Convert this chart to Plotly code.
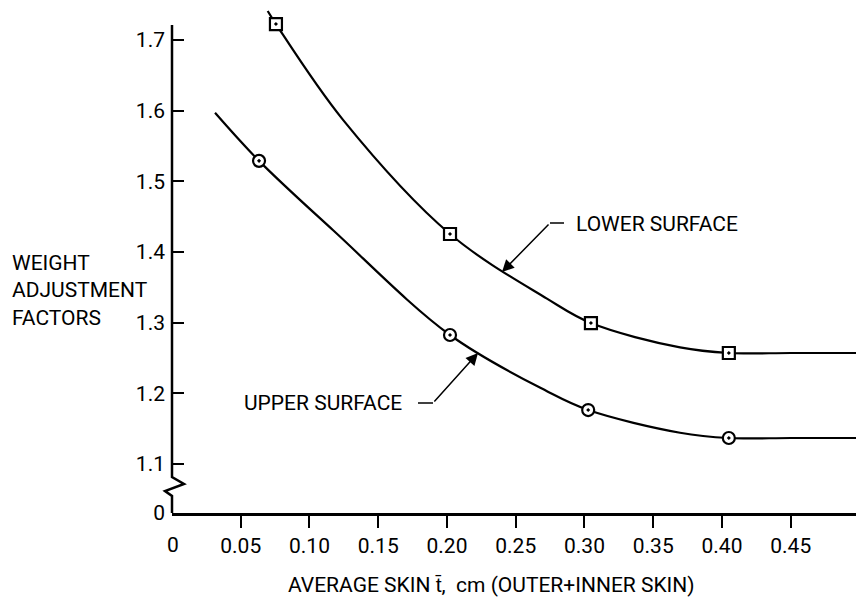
import plotly.graph_objects as go

# ---- data ----
lower_x = [0.0756, 0.2022, 0.3047, 0.4050]
lower_y = [1.7226, 1.4255, 1.2995, 1.2571]
upper_x = [0.0633, 0.2022, 0.3027, 0.4050]
upper_y = [1.5290, 1.2826, 1.1764, 1.1368]

# faired curves
lower_curve_x = [0.0696, 0.0756, 0.1244, 0.2022, 0.2727, 0.3047, 0.3695, 0.4050, 0.4500, 0.5033]
lower_curve_y = [1.7410, 1.7226, 1.5870, 1.4255, 1.3340, 1.2995, 1.2650, 1.2571, 1.2571, 1.2571]
upper_curve_x = [0.0313, 0.0633, 0.1170, 0.2022, 0.2727, 0.3027, 0.3695, 0.4050, 0.4500, 0.5033]
upper_curve_y = [1.5970, 1.5290, 1.4311, 1.2826, 1.2030, 1.1764, 1.1443, 1.1368, 1.1368, 1.1368]

x_tick_vals = [0.05, 0.10, 0.15, 0.20, 0.25, 0.30, 0.35, 0.40, 0.45]
x_tick_text = ["0.05", "0.10", "0.15", "0.20", "0.25", "0.30", "0.35", "0.40", "0.45"]
y_break_val = 1.0307  # where the "0" of the broken axis sits
y_tick_vals = [y_break_val, 1.1, 1.2, 1.3, 1.4, 1.5, 1.6, 1.7]
y_tick_text = ["0", "1.1", "1.2", "1.3", "1.4", "1.5", "1.6", "1.7"]

X_RANGE = [0, 0.5033]
Y_RANGE = [y_break_val, 1.7453]

FONT = "Roboto, Liberation Sans, sans-serif"
FS = 21

# page offset (body margin) and figure geometry
OFF = 8
W, H = 856, 595
ML, MR, MT, MB = 164, 0, 0, 90
PW, PH = W - ML - MR, H - MT - MB

def px2x(P):  # page pixel -> data x
    return X_RANGE[0] + (P - OFF - ML) / PW * (X_RANGE[1] - X_RANGE[0])
def py2y(P):  # page pixel -> data y
    return Y_RANGE[1] - (P - OFF - MT) / PH * (Y_RANGE[1] - Y_RANGE[0])
def pxp(P):   # page pixel -> paper x
    return (P - OFF - ML) / PW
def pyp(P):   # page pixel -> paper y
    return (H - MB - (P - OFF)) / PH

fig = go.Figure()
for cx, cy in [(lower_curve_x, lower_curve_y), (upper_curve_x, upper_curve_y)]:
    fig.add_trace(go.Scatter(x=cx, y=cy, mode="lines",
                             line=dict(color="black", width=2.2, shape="spline", smoothing=1.0),
                             showlegend=False, hoverinfo="skip"))
fig.add_trace(go.Scatter(x=lower_x, y=lower_y, mode="markers", name="Lower surface",
                         marker=dict(symbol="square-dot", size=12, color="white",
                                     line=dict(color="black", width=2.2)),
                         showlegend=False, cliponaxis=False))
fig.add_trace(go.Scatter(x=upper_x, y=upper_y, mode="markers", name="Upper surface",
                         marker=dict(symbol="circle-dot", size=12, color="white",
                                     line=dict(color="black", width=2.2)),
                         showlegend=False, cliponaxis=False))

# broken y axis line with zigzag (paper coords so it is not clipped)
path = (f"M 0 {pyp(25)} L 0 {pyp(477)} L {pxp(184)} {pyp(484)} "
        f"L {pxp(165)} {pyp(491)} L 0 {pyp(496)} L 0 {pyp(513)}")
fig.add_shape(type="path", path=path, xref="paper", yref="paper",
              line=dict(color="black", width=2.5), layer="above")

# leader elbows
fig.add_shape(type="line", xref="x", yref="y", x0=px2x(550), y0=py2y(223), x1=px2x(564), y1=py2y(223),
              line=dict(color="black", width=1.5))
fig.add_shape(type="line", xref="x", yref="y", x0=px2x(418), y0=py2y(403), x1=px2x(433), y1=py2y(403),
              line=dict(color="black", width=1.5))

fig.add_annotation(x=px2x(502), y=py2y(272), ax=px2x(550), ay=py2y(223), axref="x", ayref="y",
                   xref="x", yref="y", text="", showarrow=True, arrowhead=2, arrowsize=1.6,
                   arrowwidth=1.5, arrowcolor="black")
fig.add_annotation(x=px2x(478), y=py2y(353), ax=px2x(433), ay=py2y(403), axref="x", ayref="y",
                   xref="x", yref="y", text="", showarrow=True, arrowhead=2, arrowsize=1.6,
                   arrowwidth=1.5, arrowcolor="black")

fig.add_annotation(x=pxp(574), y=pyp(224), xref="paper", yref="paper", text="LOWER SURFACE",
                   xanchor="left", yanchor="middle", showarrow=False,
                   font=dict(family=FONT, size=FS, color="black"))
fig.add_annotation(x=pxp(404), y=pyp(403), xref="paper", yref="paper", text="UPPER SURFACE",
                   xanchor="right", yanchor="middle", showarrow=False,
                   font=dict(family=FONT, size=FS, color="black"))

# y title
fig.add_annotation(x=pxp(10), y=pyp(290), xref="paper", yref="paper",
                   text="WEIGHT<br>ADJUSTMENT<br>FACTORS", align="left",
                   xanchor="left", yanchor="middle", showarrow=False,
                   font=dict(family=FONT, size=FS, color="black"))
# x "0" label
fig.add_annotation(x=pxp(173), y=pyp(545), xref="paper", yref="paper", text="0",
                   xanchor="center", yanchor="middle", showarrow=False,
                   font=dict(family=FONT, size=FS, color="black"))
# x title
fig.add_annotation(x=pxp(491), y=pyp(585), xref="paper", yref="paper",
                   text="AVERAGE SKIN t\u0304,  cm (OUTER+INNER SKIN)",
                   xanchor="center", yanchor="middle", showarrow=False,
                   font=dict(family=FONT, size=FS, color="black"))

fig.update_layout(
    width=W, height=H, autosize=False,
    margin=dict(l=ML, r=MR, t=MT, b=MB, autoexpand=False),
    paper_bgcolor="white", plot_bgcolor="white",
    font=dict(family=FONT, size=FS, color="black"),
    xaxis=dict(range=X_RANGE, showgrid=False, zeroline=False, showline=True,
               linecolor="black", linewidth=2.5, ticks="outside", ticklen=12,
               tickwidth=2, tickcolor="black", tickvals=x_tick_vals, ticktext=x_tick_text,
               ticklabelstandoff=0, automargin=False),
    yaxis=dict(range=Y_RANGE, showgrid=False, zeroline=False, showline=False,
               ticks="inside", ticklen=12, tickwidth=2, tickcolor="black",
               tickvals=y_tick_vals, ticktext=y_tick_text, ticklabelstandoff=6,
               automargin=False),
)

fig.write_html("out.html")
